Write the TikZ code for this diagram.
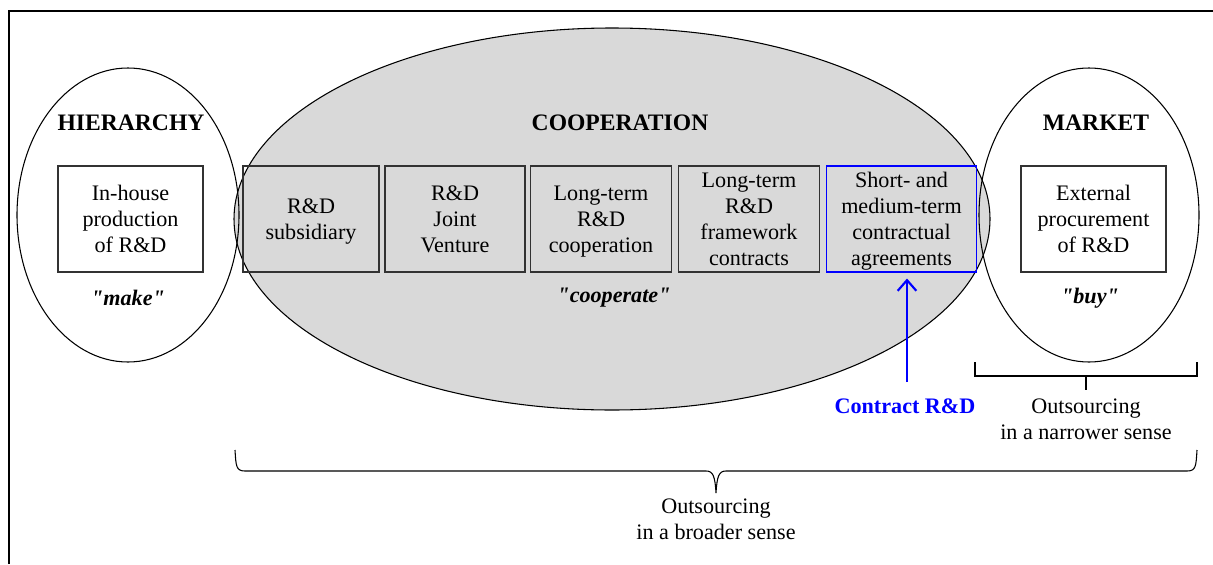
\documentclass[tikz,border=0pt]{standalone}
\usepackage{fontspec}
\setmainfont{Liberation Serif}[Ligatures=TeXOff]
\usetikzlibrary{arrows.meta,shapes.geometric}
\definecolor{coopgray}{RGB}{217,217,217}
\definecolor{boxline}{RGB}{50,50,50}
\tikzset{
  txt/.style={font=\fontsize{16.6}{19.5}\selectfont, align=center, inner sep=0pt},
  title/.style={font=\fontsize{17.7}{20}\selectfont\bfseries, inner sep=0pt},
  motto/.style={font=\fontsize{16.6}{19.5}\selectfont\bfseries\itshape, inner sep=0pt},
  rdbox/.style={draw=boxline, line width=0.8pt, txt, text depth=0pt, minimum height=106*0.75pt},
  oval/.style={draw=black, line width=0.8pt, ellipse, inner sep=0pt},
}
\begin{document}
\begin{tikzpicture}[x=0.75pt, y=-0.75pt]
\useasboundingbox (0,0) rectangle (1213,564);
% frame
\draw[line width=0.9pt] (9,564) -- (9,11) -- (1213,11);
% ellipses
\node[oval, fill=coopgray, minimum width=756*0.75pt, minimum height=382*0.75pt] at (612,219) (coop) {};
\node[oval, minimum width=222*0.75pt, minimum height=294*0.75pt] at (128,215) (hier) {};
\node[oval, minimum width=220*0.75pt, minimum height=294*0.75pt] at (1089,215) (mark) {};
% titles
\node[title] at (131,123) (thier) {HIERARCHY};
\node[title] at (620,123) (tcoop) {COOPERATION};
\node[title] at (1096,123) (tmark) {MARKET};
% boxes
\node[rdbox, fill=white, minimum width=145*0.75pt] at (130.5,219) (inhouse) {In-house\\production\\of R\&D};
\node[rdbox, fill=white, minimum width=145*0.75pt] at (1093.5,219) (external) {External\\procurement\\of R\&D};
\node[rdbox, minimum width=136*0.75pt] at (311,219) (b1) {R\&D\\subsidiary};
\node[rdbox, minimum width=140*0.75pt] at (455,219) (b2) {R\&D\\Joint\\Venture};
\node[rdbox, minimum width=141*0.75pt] at (601,219) (b3) {Long-term\\R\&D\\cooperation};
\node[rdbox, minimum width=141*0.75pt] at (749,219) (b4) {Long-term\\R\&D\\framework\\contracts};
\node[rdbox, draw=blue, minimum width=150*0.75pt] at (901.5,219) (b5) {Short- and\\medium-term\\contractual\\agreements};
% mottos
\node[motto] at (128,298) (make) {"make"};
\node[motto] at (614,298) (coopm) {"cooperate"};
\node[motto] at (1090,298) (buy) {"buy"};
% contract R&D
\node[font=\fontsize{16.6}{19.5}\selectfont\bfseries, text=blue, inner sep=0pt] at (905,406) (contract) {Contract R\&D};
\coordinate (arrstart) at (907,382);
\draw[blue, line width=1.6pt, shorten >=4.5pt, -{Straight Barb[length=8pt,width=14pt]}] (arrstart) -- (b5.south -| arrstart);
% narrow bracket
\coordinate (nl) at (975,362);
\coordinate (nr) at (1197,362);
\coordinate (nm) at (1086,376);
\draw[line width=0.8pt] (nl) -- (975,376) -- (1197,376) -- (nr);
\draw[line width=0.9pt] (nm) -- (1086,390);
\node[txt] at (1086,419) (narrow) {Outsourcing\\in a narrower sense};
% broad brace
\coordinate (bl) at (235,450);
\coordinate (br) at (1197,450);
\coordinate (btip) at (716,493);
\draw[line width=0.8pt] (bl) .. controls (236,466) and (236,471) .. (245,471)
  -- (706,471) .. controls (713,471) and (715,476) .. (btip)
  .. controls (717,476) and (719,471) .. (726,471)
  -- (1187,471) .. controls (1196,471) and (1196,466) .. (br);
\node[txt] at (716,519) (broad) {Outsourcing\\in a broader sense};
\end{tikzpicture}
\end{document}
